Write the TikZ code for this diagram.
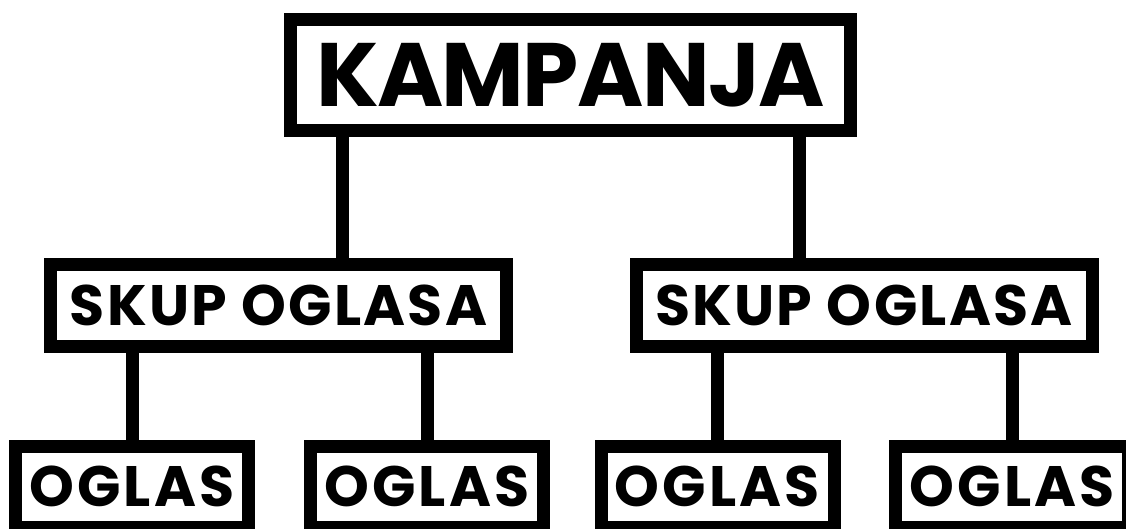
\documentclass[tikz,border=0pt]{standalone}
\usepackage{fontspec}
\setmainfont{Poppins}
\usetikzlibrary{positioning}

\begin{document}
\begin{tikzpicture}[x=1pt,y=-1pt,line width=13pt,
  box/.style={draw,line width=13pt,inner sep=0pt,text depth=0pt},
  topbox/.style={box,minimum width=560pt,minimum height=111pt,text height=63pt,
    font=\bfseries\fontsize{90}{90}\selectfont\addfontfeatures{LetterSpace=-1.8}},
  skupbox/.style={box,minimum width=456pt,minimum height=82pt,text height=40pt,
    font=\bfseries\fontsize{57}{57}\selectfont\addfontfeatures{LetterSpace=4}},
  oglasbox/.style={box,minimum width=233pt,minimum height=81pt,text height=40pt,
    font=\bfseries\fontsize{57}{57}\selectfont\addfontfeatures{LetterSpace=5.5}}]
\useasboundingbox[fill=white] (0,0) rectangle (1126,529);
\node[topbox] (kampanja) at (570.5,75) {KAMPANJA};
\node[skupbox] (skupL) at (278.5,305.5) {SKUP OGLASA};
\node[skupbox] (skupR) at (864,305.5) {SKUP OGLASA};
\foreach \x/\n in {132/a,427/b,717.5/c,1012/d}
  \node[oglasbox] (oglas\n) at (\x,486.5) {OGLAS};
\coordinate (jL) at (342,0);
\coordinate (jR) at (799,0);
\draw (kampanja.south -| jL) -- (skupL.north -| jL);
\draw (kampanja.south -| jR) -- (skupR.north -| jR);
\foreach \n/\p in {a/skupL,b/skupL,c/skupR,d/skupR}
  \draw (oglas\n.north) -- (oglas\n.north |- \p.south);
\end{tikzpicture}
\end{document}
